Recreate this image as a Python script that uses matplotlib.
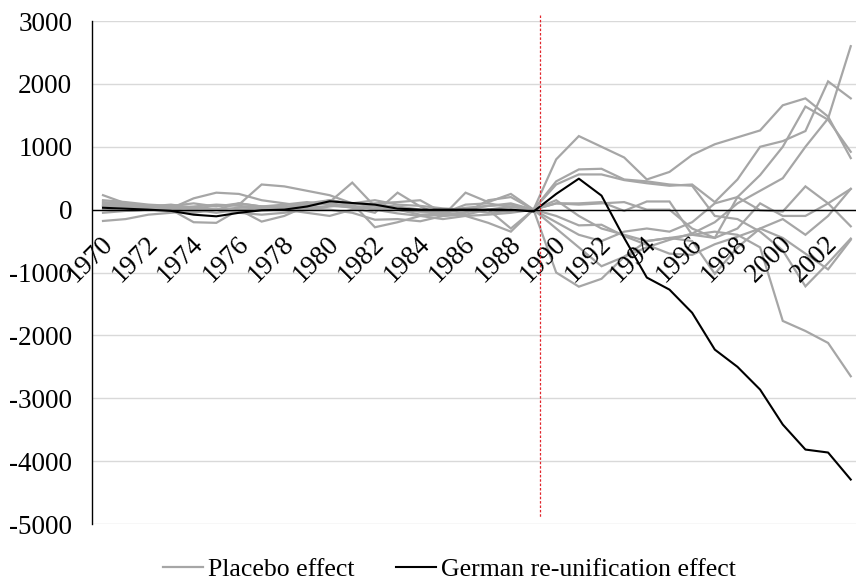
import matplotlib
matplotlib.use("Agg")
from matplotlib import pyplot as plt
from matplotlib import transforms
from matplotlib.lines import Line2D
import numpy as np

years = np.arange(1970, 2004)
tick_years = np.arange(1970, 2003, 2)
y_ticks = np.arange(-5000, 3001, 1000)

# gap in GDP per capita, West Germany vs. synthetic control
germany = [30, 15, 0, -20, -80, -106, -50, -10, 0, 50,
           133, 106, 80, 16, 0, 0, 0, 0, 0, -30,
           250, 493, 223, -450, -1080, -1272, -1640, -2226, -2500, -2862,
           -3418, -3816, -3863, -4293]

# placebo runs, one per donor country
placebo_1 = [100, 80, 50, 30, 20, 60, 80, 400, 370, 300,
             230, 100, 50, 0, -30, -50, 0, 60, 80, 0,
             800, 1170, 1000, 830, 480, 600, 870, 1040, 1150, 1260,
             1660, 1770, 1480, 820]
placebo_2 = [230, 100, 60, 20, 180, 270, 250, 150, 100, 50,
             120, 430, 50, 0, -80, -60, 80, 100, 40, 0,
             450, 640, 650, 480, 450, 400, 380, -100, -150, -350,
             -650, -1220, -850, -460]
placebo_3 = [-180, -150, -80, -50, -20, 0, 30, 50, 80, 120,
             80, 30, -50, 270, 50, -100, 270, 120, 250, 0,
             400, 560, 560, 470, 420, 380, 400, 120, 480, 1000,
             1090, 1250, 2040, 1770]
placebo_4 = [50, 60, 30, 0, -200, -210, 0, -190, -100, 60,
             150, 100, -280, -200, -100, -150, -100, -210, -350, 0,
             -300, -600, -900, -750, -500, -450, -400, -350, -400, -600,
             -1770, -1930, -2120, -2650]
placebo_5 = [150, 120, 80, 60, 100, 50, 100, 50, 30, 100,
             150, 80, 100, 120, 150, -50, -100, -80, -50, 0,
             100, 100, 120, -20, 130, 130, -400, -450, 200, -10,
             -30, 370, 100, -265]
placebo_6 = [0, -20, 0, 50, 0, -50, 0, 20, 60, 20,
             0, -50, -160, -150, -185, -100, -50, 150, 200, 0,
             -1000, -1225, -1100, -750, -600, -480, -380, -200, 100, 300,
             500, 1000, 1450, 2600]
placebo_7 = [80, 50, 30, 0, -50, 0, 100, 50, 0, -50,
             -100, 0, 80, 50, 0, -100, -80, 0, 50, 0,
             -200, -400, -500, -350, -300, -350, -200, 100, 200, 550,
             1000, 1640, 1430, 920]
placebo_8 = [120, 100, 50, 80, 30, 0, -50, -80, -50, 0,
             50, 100, 150, 80, 60, 20, 0, -50, -20, 0,
             150, -100, -300, -400, -500, -450, -500, -1020, -600, -300,
             -150, -400, -100, 330]
placebo_9 = [-50, -20, 0, 30, 50, 80, 60, 30, 0, 30,
             60, 40, 20, 0, -30, -20, 30, 60, 100, 0,
             100, 80, 100, 120, 0, 0, -300, -450, -300, 100,
             -100, -100, 100, 330]
placebo_10 = [60, 40, 20, 0, 30, 0, -40, 0, 40, 80,
              100, 60, 0, -60, -100, -80, -40, 0, -300, 0,
              -100, -250, -240, -420, -560, -700, -720, -550, -430, -300,
              -450, -700, -950, -480]
placebos = [placebo_1, placebo_2, placebo_3, placebo_4, placebo_5,
            placebo_6, placebo_7, placebo_8, placebo_9, placebo_10]

REUNIFICATION = 1989.3
GREY = "#a6a6a6"


def _draw():
    plt.rcParams["font.family"] = ["Liberation Serif", "DejaVu Serif"]
    fig = plt.figure(figsize=(8.56, 5.81), dpi=100)
    ax = fig.add_axes([0.1071, 0.0981, 0.900, 0.8657])

    ax.set_xlim(1969.5, 2003.5)
    ax.set_ylim(-5000, 3000)

    for series in placebos:
        ax.plot(years, series, color=GREY, lw=1.6, solid_joinstyle="miter", zorder=2)
    ax.plot(years, germany, color="black", lw=1.5, zorder=3)

    ax.axhline(0, color="black", lw=1.0, zorder=2.5)
    ax.plot([REUNIFICATION, REUNIFICATION], [3100, -4910], color="#e0242b",
            lw=0.9, ls=(0, (2, 1.5)), clip_on=False, zorder=4)

    ax.set_yticks(y_ticks)
    ax.set_yticklabels([str(v) for v in y_ticks], fontsize=19.5)
    ax.yaxis.grid(True, color="#d9d9d9", lw=1.0)
    ax.set_axisbelow(True)
    ax.tick_params(axis="y", length=0, pad=14)
    ax.tick_params(axis="x", length=0)
    ax.set_xticks([])

    for side in ["top", "right", "bottom"]:
        ax.spines[side].set_visible(False)
    ax.spines["left"].set_color("black")
    ax.spines["left"].set_linewidth(1.0)

    label_shift = transforms.offset_copy(ax.transData, fig=fig, x=-3, y=-22, units="dots")
    for yr in tick_years:
        ax.text(yr, 0, str(yr), transform=label_shift, rotation=45,
                rotation_mode="anchor", ha="right", va="top", fontsize=19.5)

    handles = [Line2D([], [], color=GREY, lw=1.6),
               Line2D([], [], color="black", lw=1.5)]
    fig.legend(handles, ["Placebo effect", "German re-unification effect"],
               loc="center", bbox_to_anchor=(0.525, 0.02), ncol=2,
               frameon=False, fontsize=18.5, handlelength=1.55, handletextpad=0.2,
               columnspacing=1.6)

    fig.savefig("out.png", dpi=100)


_draw()
